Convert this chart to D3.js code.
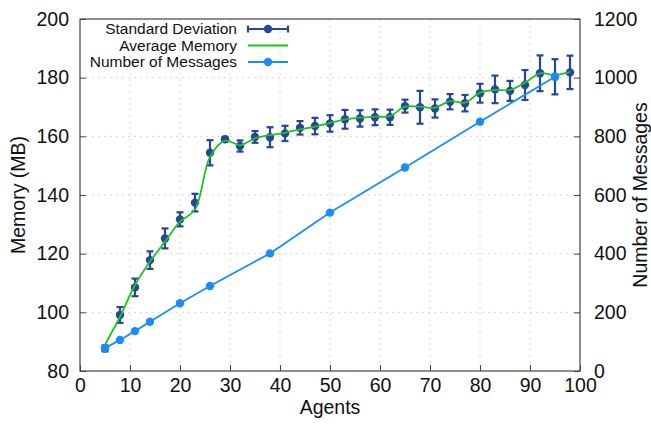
<!DOCTYPE html>
<html lang="en">
<head>
  <meta charset="UTF-8">
  <title>Memory vs Agents</title>
  <script src="https://d3js.org/d3.v7.min.js"></script>
  <style>
    body {
      margin: 0;
      padding: 0;
      background-color: white;
      font-family: "Liberation Sans", Arial, sans-serif;
    }
    svg text {
      fill: #111;
    }
  </style>
</head>
<body>
  <div id="chart"></div>

  <script>
    // agents sampled every 3 from 5 to 98
    const agents = [5, 8, 11, 14, 17, 20, 23, 26, 29, 32, 35, 38, 41, 44, 47, 50,
                    53, 56, 59, 62, 65, 68, 71, 74, 77, 80, 83, 86, 89, 92, 95, 98];
    const memMean = [87.7, 99.1, 108.5, 117.8, 125.2, 131.7, 137.4, 154.4, 159.0, 156.7, 159.8, 159.7,
                     161.0, 162.9, 163.5, 164.4, 165.8, 166.1, 166.5, 166.5, 170.3, 169.9, 169.5, 171.8,
                     171.3, 174.7, 176.0, 175.5, 177.5, 181.5, 180.3, 181.8];
    const memStd = [1.0, 2.7, 3.0, 3.0, 3.4, 2.4, 3.0, 4.3, 0.8, 1.9, 2.0, 3.4,
                    2.6, 2.3, 2.8, 2.8, 3.2, 2.8, 2.7, 2.6, 2.2, 5.6, 3.1, 2.6,
                    2.8, 3.2, 4.7, 3.4, 5.1, 6.1, 6.0, 5.7];
    const avgMemory = [89.0, 98.5, 109.3, 117.3, 124.1, 130.9, 135.1, 153.0, 158.5, 157.0, 159.3, 160.4,
                       161.2, 162.4, 163.3, 164.6, 165.8, 166.4, 166.7, 166.9, 170.1, 170.1, 169.8, 172.0,
                       171.5, 174.9, 175.8, 175.8, 178.3, 181.5, 180.9, 182.0];
    const msgAgents = [5, 8, 11, 14, 20, 26, 38, 50, 65, 80, 95];
    const msgCount = [78, 106, 136, 168, 231, 290, 401, 540, 694, 850, 1003];

    const xTicks = [0, 10, 20, 30, 40, 50, 60, 70, 80, 90, 100];
    const yTicks = [80, 100, 120, 140, 160, 180, 200];
    const y2Ticks = [0, 200, 400, 600, 800, 1000, 1200];

    const width = 651, height = 424;
    const margin = { left: 80, right: 71, top: 19, bottom: 53 };
    const plotW = width - margin.left - margin.right;
    const plotH = height - margin.top - margin.bottom;

    const errColor = "#24479a";
    const avgColor = "#1ec31e";
    const msgColor = "#1a8cff";

    const svg = d3.select("#chart")
      .append("svg")
      .attr("width", width)
      .attr("height", height)
      .style("font-family", "'Liberation Sans', Arial, sans-serif");

    const g = svg.append("g")
      .attr("transform", `translate(${margin.left},${margin.top})`);

    const x = d3.scaleLinear().domain([0, 100]).range([0, plotW]);
    const y = d3.scaleLinear().domain([80, 200]).range([plotH, 0]);
    const y2 = d3.scaleLinear().domain([0, 1200]).range([plotH, 0]);

    // grid
    const grid = g.append("g").attr("class", "grid")
      .attr("stroke", "#d9d6c4")
      .attr("stroke-width", 1)
      .attr("stroke-dasharray", "2,4");
    xTicks.slice(1, -1).forEach(t => {
      grid.append("line")
        .attr("x1", x(t)).attr("x2", x(t))
        .attr("y1", 0).attr("y2", plotH);
    });
    yTicks.slice(1, -1).forEach(t => {
      grid.append("line")
        .attr("x1", 0).attr("x2", plotW)
        .attr("y1", y(t)).attr("y2", y(t));
    });

    // axes, ticks pointing inward
    const fontSize = "19.5px";
    const xAxis = g.append("g")
      .attr("transform", `translate(0,${plotH})`)
      .call(d3.axisBottom(x).tickValues(xTicks).tickSizeInner(-6).tickSizeOuter(0).tickPadding(7));
    const yAxis = g.append("g")
      .call(d3.axisLeft(y).tickValues(yTicks).tickSizeInner(-6).tickSizeOuter(0).tickPadding(11));
    const y2Axis = g.append("g")
      .attr("transform", `translate(${plotW},0)`)
      .call(d3.axisRight(y2).tickValues(y2Ticks).tickFormat(d3.format("d"))
        .tickSizeInner(-6).tickSizeOuter(0).tickPadding(14));

    [xAxis, yAxis, y2Axis].forEach(a => {
      a.select(".domain").remove();
      a.selectAll("line").attr("stroke", "#444");
      a.selectAll("text")
        .style("font-size", fontSize)
        .style("font-family", "'Liberation Sans', Arial, sans-serif")
        .attr("fill", "#111");
    });

    // border box
    g.append("rect")
      .attr("x", 0).attr("y", 0)
      .attr("width", plotW).attr("height", plotH)
      .attr("fill", "none")
      .attr("stroke", "#444")
      .attr("stroke-width", 1.2);

    // axis titles
    svg.append("text")
      .attr("x", margin.left + plotW / 2)
      .attr("y", 414)
      .attr("text-anchor", "middle")
      .style("font-size", fontSize)
      .text("Agents");

    svg.append("text")
      .attr("transform", `translate(25,${margin.top + plotH / 2}) rotate(-90)`)
      .attr("text-anchor", "middle")
      .style("font-size", fontSize)
      .text("Memory (MB)");

    svg.append("text")
      .attr("transform", `translate(647,${margin.top + plotH / 2}) rotate(-90)`)
      .attr("text-anchor", "middle")
      .style("font-size", fontSize)
      .text("Number of Messages");

    // error bars
    const memData = agents.map((a, i) => ({ a: a, m: memMean[i], s: memStd[i], avg: avgMemory[i] }));
    const bars = g.append("g")
      .attr("stroke", errColor)
      .attr("stroke-width", 2.2);
    memData.forEach(d => {
      const cx = x(d.a);
      bars.append("line")
        .attr("x1", cx).attr("x2", cx)
        .attr("y1", y(d.m - d.s)).attr("y2", y(d.m + d.s));
      bars.append("line")
        .attr("x1", cx - 3.5).attr("x2", cx + 3.5)
        .attr("y1", y(d.m - d.s)).attr("y2", y(d.m - d.s));
      bars.append("line")
        .attr("x1", cx - 3.5).attr("x2", cx + 3.5)
        .attr("y1", y(d.m + d.s)).attr("y2", y(d.m + d.s));
    });
    g.append("g").selectAll("circle")
      .data(memData)
      .enter()
      .append("circle")
      .attr("cx", d => x(d.a))
      .attr("cy", d => y(d.m))
      .attr("r", 4.2)
      .attr("fill", errColor);

    // average memory line (smoothed)
    g.append("path")
      .datum(memData)
      .attr("fill", "none")
      .attr("stroke", avgColor)
      .attr("stroke-width", 1.8)
      .attr("d", d3.line().x(d => x(d.a)).y(d => y(d.avg)).curve(d3.curveCatmullRom));

    // message line
    const msgData = msgAgents.map((a, i) => ({ a: a, v: msgCount[i] }));
    g.append("path")
      .datum(msgData)
      .attr("fill", "none")
      .attr("stroke", msgColor)
      .attr("stroke-width", 1.8)
      .attr("d", d3.line().x(d => x(d.a)).y(d => y2(d.v)));
    g.append("g").selectAll("circle")
      .data(msgData)
      .enter()
      .append("circle")
      .attr("cx", d => x(d.a))
      .attr("cy", d => y2(d.v))
      .attr("r", 4.2)
      .attr("fill", msgColor);

    // legend
    const legend = svg.append("g");
    const legendItems = ["Standard Deviation", "Average Memory", "Number of Messages"];
    const legX = 237, lineX1 = 248, lineX2 = 288;
    legendItems.forEach((name, i) => {
      const ly = 29 + i * 16.5;
      legend.append("text")
        .attr("x", legX)
        .attr("y", ly)
        .attr("dy", "0.35em")
        .attr("text-anchor", "end")
        .style("font-size", "15.5px")
        .text(name);
      if (i === 0) {
        legend.append("line")
          .attr("x1", lineX1).attr("x2", lineX2)
          .attr("y1", ly).attr("y2", ly)
          .attr("stroke", errColor).attr("stroke-width", 2.2);
        [lineX1, lineX2].forEach(px => {
          legend.append("line")
            .attr("x1", px).attr("x2", px)
            .attr("y1", ly - 3.5).attr("y2", ly + 3.5)
            .attr("stroke", errColor).attr("stroke-width", 2.2);
        });
        legend.append("circle")
          .attr("cx", (lineX1 + lineX2) / 2).attr("cy", ly).attr("r", 4.2)
          .attr("fill", errColor);
      } else if (i === 1) {
        legend.append("line")
          .attr("x1", lineX1).attr("x2", lineX2)
          .attr("y1", ly).attr("y2", ly)
          .attr("stroke", avgColor).attr("stroke-width", 1.8);
      } else {
        legend.append("line")
          .attr("x1", lineX1).attr("x2", lineX2)
          .attr("y1", ly).attr("y2", ly)
          .attr("stroke", msgColor).attr("stroke-width", 1.8);
        legend.append("circle")
          .attr("cx", (lineX1 + lineX2) / 2).attr("cy", ly).attr("r", 4.2)
          .attr("fill", msgColor);
      }
    });
  </script>
</body>
</html>
